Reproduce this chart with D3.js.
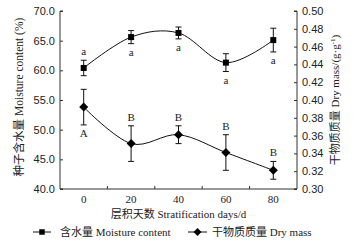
<!DOCTYPE html>
<html><head><meta charset="utf-8">
<script src="https://cdn.jsdelivr.net/npm/d3@7"></script>
<style>
body{margin:0;background:#fff;}
svg{display:block;font-family:"Liberation Serif","Times New Roman","Noto Sans CJK SC",serif;}
</style></head>
<body><svg id="c" width="355" height="247"></svg>
<script>
const days = ["0","20","40","60","80"];
const moisture = [60.4, 65.6, 66.3, 61.3, 65.1];
const moistureErr = [1.3, 1.1, 1.0, 1.5, 2.0];
const moistureLetters = ["a","a","a","a","a"];
const moistureLetterAbove = [true,false,false,false,false];
const dryMass = [0.392, 0.351, 0.361, 0.341, 0.321];
const dryMassErr = [0.020, 0.020, 0.010, 0.020, 0.010];
const dryLetters = ["A","B","B","B","B"];
const dryLetterAbove = [false,true,true,true,true];
const leftTicks = [40,45,50,55,60,65,70];
const rightTicks = [0.30,0.32,0.34,0.36,0.38,0.40,0.42,0.44,0.46,0.48,0.50];

const svg = d3.select("#c");
const L = 60, R = 297, T = 11, B = 189;
const x = d3.scaleBand().domain(days).range([L, R]).padding(0);
const xc = d => x(d) + x.bandwidth()/2;
const yL = d3.scaleLinear().domain([40,70]).range([B, T]);
const yR = d3.scaleLinear().domain([0.30,0.50]).range([B, T]);
const fs = 11;

// axes
const gL = svg.append("g").attr("transform",`translate(${L},0)`)
  .call(d3.axisRight(yL).tickValues(leftTicks).tickSize(3).tickFormat(d3.format(".1f")));
gL.selectAll("text").attr("x", -5).attr("text-anchor","end").attr("font-size",fs).attr("font-family",null).attr("fill","#222");
const gR = svg.append("g").attr("transform",`translate(${R},0)`)
  .call(d3.axisLeft(yR).tickValues(rightTicks).tickSize(3).tickFormat(d3.format(".2f")));
gR.selectAll("text").attr("x", 5).attr("text-anchor","start").attr("font-size",fs).attr("font-family",null).attr("fill","#222");
[gL,gR].forEach(g=>{g.select(".domain").attr("stroke","#333");g.selectAll(".tick line").attr("stroke","#333");});
gL.select(".domain").attr("d",`M3,${T}H0V${B}H3`);
gR.select(".domain").attr("d",`M-3,${T}H0V${B}H-3`);

// x axis
svg.append("line").attr("x1",L).attr("x2",R).attr("y1",B).attr("y2",B).attr("stroke","#333");
const bounds = days.slice(1).map(d=>x(d));
svg.selectAll(".xt").data(bounds).join("line").attr("x1",d=>d).attr("x2",d=>d)
  .attr("y1",B).attr("y2",B-3).attr("stroke","#333");
svg.selectAll(".xl").data(days).join("text").attr("x",d=>xc(d)).attr("y",B+14)
  .attr("text-anchor","middle").attr("font-size",fs).attr("fill","#222").text(d=>d);

// titles
svg.append("text").attr("x",(L+R)/2).attr("y",218).attr("text-anchor","middle")
  .attr("font-size",fs).attr("fill","#222").text("层积天数 Stratification days/d");
svg.append("text").attr("transform","translate(23,97) rotate(-90)").attr("text-anchor","middle")
  .attr("font-size",11.5).attr("fill","#222").text("种子含水量 Moisture content (%)");
const rt = svg.append("text").attr("transform","translate(339,100) rotate(-90)").attr("text-anchor","middle")
  .attr("font-size",11).attr("fill","#222");
rt.append("tspan").text("干物质质量 Dry mass/(g·g");
rt.append("tspan").attr("font-size",7).attr("dy",-4).text("-1");
rt.append("tspan").attr("dy",4).text(")");

const curve = d3.curveCatmullRom.alpha(0);
function series(vals, errs, scale, marker, letters, above){
  const g = svg.append("g");
  g.append("path").datum(vals).attr("fill","none").attr("stroke","#111").attr("stroke-width",1)
    .attr("d", d3.line().x((d,i)=>xc(days[i])).y(d=>scale(d)).curve(curve));
  vals.forEach((v,i)=>{
    const cx = xc(days[i]), t = scale(v+errs[i]), b = scale(v-errs[i]);
    g.append("path").attr("stroke","#111").attr("fill","none").attr("stroke-width",1)
      .attr("d",`M${cx},${t}V${b}M${cx-3},${t}H${cx+3}M${cx-3},${b}H${cx+3}`);
    g.append("path").attr("transform",`translate(${cx},${scale(v)})`)
      .attr("d", marker==="square" ? d3.symbol(d3.symbolSquare,36)() : "M0,-4.5L4.5,0L0,4.5L-4.5,0Z")
      .attr("fill","#000");
    const ly = above[i] ? t - 5 : b + 12;
    g.append("text").attr("x",cx).attr("y",ly).attr("text-anchor","middle")
      .attr("font-size",fs).attr("fill","#222").text(letters[i]);
  });
}
series(moisture, moistureErr, yL, "square", moistureLetters, moistureLetterAbove);
series(dryMass, dryMassErr, yR, "diamond", dryLetters, dryLetterAbove);

// legend
const ly = 232;
const lg = svg.append("g");
lg.append("line").attr("x1",33).attr("x2",51).attr("y1",ly).attr("y2",ly).attr("stroke","#111");
lg.append("path").attr("transform",`translate(42,${ly})`).attr("d",d3.symbol(d3.symbolSquare,30)()).attr("fill","#000");
lg.append("text").attr("x",60).attr("y",ly+4).attr("font-size",fs).attr("fill","#222").text("含水量 Moisture content");
lg.append("line").attr("x1",188).attr("x2",207).attr("y1",ly).attr("y2",ly).attr("stroke","#111");
lg.append("path").attr("transform",`translate(197.5,${ly})`).attr("d","M0,-4L4,0L0,4L-4,0Z").attr("fill","#000");
lg.append("text").attr("x",212).attr("y",ly+4).attr("font-size",fs).attr("fill","#222").text("干物质质量 Dry mass");
</script></body></html>
